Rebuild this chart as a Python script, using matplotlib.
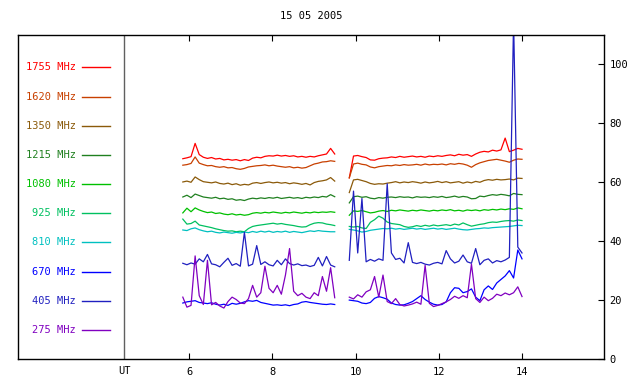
import numpy as np
import matplotlib
matplotlib.use('Agg')
import matplotlib.pyplot as plt

plt.rcParams['font.family'] = ['DejaVu Sans Mono']

title = '15 05 2005'
freqs = ['1755 MHz', '1620 MHz', '1350 MHz', '1215 MHz', '1080 MHz',
         '925 MHz', '810 MHz', '670 MHz', '405 MHz', '275 MHz']
colors = ['#ff0000', '#c84000', '#8b5a0a', '#208020', '#00c000',
          '#00c060', '#00c0c0', '#0000ff', '#2020c0', '#8000c0']

# sample times (UT hours), two observing blocks
tA = np.linspace(5.85, 9.5, 38)
tB = np.linspace(9.85, 14.0, 42)

# flux values, block A then block B
f1755A = [68.0, 68.3, 68.7, 73.2, 69.4, 68.5, 68.1, 68.4, 67.9, 68.1, 67.6, 67.8, 67.5,
          67.7, 67.3, 67.7, 67.4, 68.2, 68.5, 68.3, 68.8, 69.0, 68.9, 69.2, 68.9, 69.1,
          68.8, 69.0, 68.6, 68.8, 68.5, 68.8, 68.6, 69.0, 69.3, 69.6, 71.5, 69.6]
f1755B = [61.5, 68.9, 69.1, 68.7, 68.4, 67.6, 67.5, 68.0, 68.2, 68.3, 68.6, 68.4, 68.8,
          68.5, 68.7, 68.9, 68.6, 68.8, 68.5, 68.9, 68.7, 69.0, 68.8, 69.1, 69.3, 69.0,
          69.5, 69.2, 69.4, 68.8, 69.6, 70.2, 70.5, 70.3, 70.9, 70.6, 71.0, 75.0, 70.4,
          70.9, 71.5, 71.2]
f1620A = [65.8, 66.0, 66.4, 68.6, 66.5, 66.0, 65.6, 65.7, 65.3, 65.1, 65.3, 64.9, 65.0,
          64.6, 64.4, 64.7, 65.2, 65.4, 65.6, 65.7, 65.9, 65.6, 65.8, 65.5, 65.3, 65.1,
          65.3, 64.9, 65.1, 64.8, 65.0, 65.6, 66.2, 66.5, 66.9, 67.0, 67.3, 67.1]
f1620B = [61.5, 66.2, 66.5, 66.1, 65.9, 65.2, 64.9, 65.3, 65.5, 65.7, 65.6, 65.9, 65.7,
          66.0, 65.8, 65.9, 66.1, 65.8, 66.2, 65.9, 66.1, 66.0, 66.2, 65.9, 66.3, 66.1,
          66.4, 66.2, 65.8, 65.1, 66.0, 66.6, 67.0, 67.4, 67.6, 67.8, 67.5, 67.2, 66.8,
          67.5, 67.9, 67.8]
f1350A = [60.1, 60.4, 60.0, 61.8, 60.9, 60.2, 60.0, 59.8, 60.1, 59.6, 59.4, 59.7, 59.2,
          59.5, 59.0, 59.3, 59.1, 59.7, 59.9, 59.6, 59.9, 60.1, 59.8, 60.0, 59.7, 59.9,
          59.5, 59.8, 59.6, 59.3, 59.6, 59.1, 59.9, 60.3, 60.5, 60.8, 61.6, 60.4]
f1350B = [56.5, 60.8, 61.0, 60.6, 60.2, 59.6, 59.3, 59.5, 59.4, 59.7, 59.9, 60.2, 59.8,
          60.1, 59.9, 60.2, 60.0, 59.7, 60.1, 59.8, 60.0, 60.3, 59.9, 60.2, 59.8, 60.0,
          60.2, 59.7, 60.1, 59.8, 60.3, 60.0, 60.6, 60.9, 60.7, 61.0, 60.8, 60.9, 61.1,
          60.8, 61.4, 61.3]
f1215A = [55.0, 55.6, 54.8, 56.0, 55.5, 55.0, 54.8, 54.6, 54.9, 54.4, 54.6, 54.2, 54.4,
          53.9, 54.1, 53.8, 54.3, 54.6, 54.4, 54.7, 54.5, 54.8, 54.6, 54.9, 54.5, 54.7,
          54.9, 54.6, 54.8, 54.5, 54.9, 54.7, 55.0, 54.8, 55.2, 55.0, 55.8, 55.1]
f1215B = [53.0, 55.1, 55.3, 54.9, 55.1, 54.6, 54.4, 54.8, 54.6, 54.9, 55.0, 54.8, 55.1,
          54.9, 55.0, 54.7, 55.1, 54.9, 55.0, 54.8, 55.1, 54.9, 55.2, 54.8, 55.0, 55.3,
          54.9, 55.2, 55.0, 54.4, 54.5, 55.3, 55.1, 55.5, 55.8, 55.6, 55.9, 55.7, 55.4,
          56.2, 55.9, 55.8]
f1080A = [49.6, 51.2, 50.0, 51.3, 50.6, 50.1, 49.7, 49.9, 49.4, 49.6, 49.2, 49.0, 49.3,
          48.9, 49.1, 48.8, 49.0, 49.5, 49.7, 49.5, 49.8, 49.6, 49.9, 49.7, 49.5, 49.8,
          49.6, 49.9, 49.7, 49.5, 49.8, 49.6, 49.9, 49.7, 49.9, 49.8, 50.0, 49.8]
f1080B = [48.8, 50.3, 50.1, 50.4, 50.0, 49.6, 49.8, 50.2, 50.4, 50.1, 50.5, 50.3, 50.6,
          50.4, 50.2, 50.5, 50.3, 50.6, 50.4, 50.2, 50.5, 50.3, 50.6, 50.4, 50.7, 50.3,
          50.5, 50.2, 50.6, 50.4, 50.6, 50.3, 50.7, 50.5, 50.8, 50.6, 50.9, 50.7, 51.0,
          50.8, 51.3, 51.0]
f925A = [47.5, 45.8, 46.0, 46.8, 45.5, 45.2, 44.9, 44.6, 44.2, 43.9, 43.6, 43.4, 43.5,
         43.2, 43.4, 43.2, 44.3, 45.0, 45.3, 45.5, 45.7, 45.9, 46.1, 45.8, 46.0, 45.7,
         45.5, 45.3, 45.0, 44.8, 44.9, 45.6, 46.1, 46.3, 46.2, 45.8, 45.6, 45.3]
f925B = [45.0, 44.8, 45.0, 44.5, 44.3, 46.4, 47.3, 48.5, 47.8, 46.5, 46.0, 45.8, 45.6,
         45.0, 44.7, 44.9, 45.3, 45.0, 45.4, 45.1, 45.5, 45.2, 45.4, 45.6, 45.3, 45.8,
         45.5, 46.2, 45.6, 45.1, 45.4, 45.7, 45.9, 46.3, 46.5, 46.4, 46.7, 46.9, 47.0,
         46.8, 47.2, 47.0]
f810A = [43.8, 43.6, 44.2, 44.5, 43.9, 43.5, 43.2, 43.4, 43.0, 42.8, 43.1, 42.9, 42.7,
         43.0, 42.8, 43.1, 42.9, 43.3, 43.0, 43.4, 43.1, 43.4, 43.0, 43.3, 43.1, 43.4,
         43.0, 43.3, 43.1, 42.9, 43.2, 43.5, 43.3, 43.6, 43.4, 43.3, 43.2, 43.2]
f810B = [44.0, 43.8, 43.5, 43.1, 43.3, 43.7, 43.9, 44.1, 44.3, 44.2, 44.4, 44.1, 44.3,
         44.0, 44.2, 44.4, 44.1, 44.3, 44.0, 44.2, 44.4, 44.1, 44.3, 44.0, 44.2, 44.4,
         44.1, 43.9, 43.8, 44.0, 44.2, 44.3, 44.5, 44.4, 44.6, 44.7, 44.8, 44.9, 45.0,
         45.2, 45.4, 45.3]
f670A = [19.0, 19.4, 19.6, 19.8, 19.2, 19.0, 18.8, 19.1, 18.6, 18.3, 18.6, 18.2, 18.9,
         18.6, 18.9, 19.4, 19.8, 19.6, 19.9, 19.2, 18.9, 18.6, 18.3, 18.4, 18.2, 18.4,
         18.1, 18.5, 18.7, 19.3, 19.5, 19.2, 19.0, 18.8, 18.6, 18.5, 18.7, 18.5]
f670B = [20.0, 19.8, 19.6, 19.0, 18.8, 19.2, 20.6, 21.2, 20.8, 20.3, 19.0, 18.5, 18.3,
         18.4, 18.9, 19.5, 20.5, 21.5, 20.2, 19.3, 18.6, 18.3, 18.5, 19.4, 22.5, 24.2,
         24.0, 22.5, 22.9, 23.8, 21.0, 19.8, 23.5, 24.8, 23.6, 25.8, 27.0, 28.2, 30.0,
         27.5, 37.0, 34.0]
f405A = [32.5, 32.0, 32.6, 32.2, 34.0, 33.0, 35.5, 32.3, 32.0, 31.3, 32.8, 34.2, 31.8,
         32.4, 31.5, 43.0, 31.6, 32.2, 38.5, 32.1, 33.0, 32.0, 31.6, 33.5, 32.0, 34.0,
         32.4, 31.9, 32.3, 31.7, 31.9, 31.4, 31.8, 34.5, 31.6, 34.8, 31.9, 31.3]
f405B = [33.5, 57.0, 36.0, 54.5, 33.0, 33.8, 33.2, 34.0, 33.5, 59.5, 36.0, 33.8, 34.2,
         32.6, 39.5, 32.8, 32.4, 32.8, 32.2, 31.9, 32.5, 32.8, 32.3, 36.8, 34.0, 32.6,
         33.2, 35.3, 33.0, 32.5, 37.5, 32.0, 33.5, 34.0, 32.6, 33.4, 33.0, 33.6, 34.5,
         115.0, 38.0, 36.0]
f275A = [21.0, 17.6, 18.2, 35.0, 21.5, 18.5, 33.5, 18.4, 19.2, 18.0, 17.3, 19.5, 21.0,
         20.2, 19.0, 18.8, 20.5, 25.0, 21.0, 22.5, 31.5, 24.0, 22.5, 25.0, 22.0, 28.5,
         37.5, 23.0, 21.5, 22.3, 21.0, 20.5, 22.5, 21.5, 28.0, 23.0, 31.0, 20.8]
f275B = [21.0, 20.4, 21.8, 21.0, 22.8, 23.5, 28.0, 21.0, 28.5, 19.5, 18.8, 20.5, 18.5,
         18.0, 18.3, 18.7, 19.3, 18.6, 31.8, 18.9, 17.8, 18.2, 18.8, 19.4, 20.2, 21.3,
         20.6, 21.5, 20.8, 32.2, 20.5, 19.2, 21.0, 19.8, 20.6, 22.0, 21.5, 22.4, 21.8,
         22.5, 24.5, 21.2]

blockA = [f1755A, f1620A, f1350A, f1215A, f1080A, f925A, f810A, f670A, f405A, f275A]
blockB = [f1755B, f1620B, f1350B, f1215B, f1080B, f925B, f810B, f670B, f405B, f275B]

fig = plt.figure(figsize=(6.4, 3.84), dpi=100)
ax = fig.add_axes([18/640, 25/384, 586/640, 324/384])

for i in range(len(freqs)):
    ax.plot(tA, blockA[i], color=colors[i], lw=0.9)
    ax.plot(tB, blockB[i], color=colors[i], lw=0.9)
    # label + colour key on the left
    yl = 99 - 9.9 * i
    ax.text(3.28, yl, freqs[i], color=colors[i], ha='right', va='center', fontsize=7.5)
    ax.plot([3.43, 4.1], [yl, yl], color=colors[i], lw=1)

ax.axvline(4.44, color='#606060', lw=1)
ax.text(4.44, -2.5, 'UT', ha='center', va='top', fontsize=7.5)

ax.set_xlim(1.89, 15.97)
ax.set_ylim(0, 110)
ax.set_xticks([6, 8, 10, 12, 14])
ax.set_yticks([0, 20, 40, 60, 80, 100])
ax.tick_params(axis='x', direction='in', top=True, length=4, labelsize=7.5, pad=6)
ax.tick_params(axis='y', direction='in', left=False, right=True, labelleft=False,
               labelright=True, length=4, labelsize=7.5, pad=4)
for s in ax.spines.values():
    s.set_linewidth(1)

fig.text(311/640, 1 - 16/384, title, ha='center', va='center', fontsize=7.5)

fig.savefig('out.png', dpi=100)
